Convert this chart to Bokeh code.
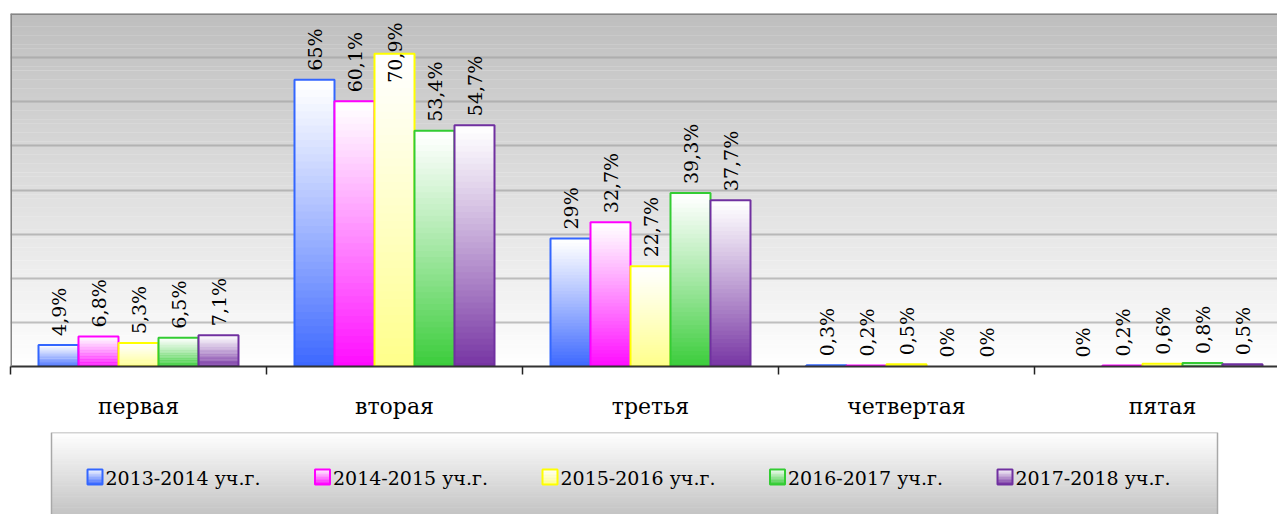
import numpy as np
from bokeh.plotting import figure
from bokeh.layouts import column
from bokeh.models import Range1d, FixedTicker, Span
from bokeh.core.properties import value
from bokeh.embed import file_html
from bokeh.resources import INLINE

# ---------------- data ----------------
categories = ["первая", "вторая", "третья", "четвертая", "пятая"]
series_names = ["2013-2014 уч.г.", "2014-2015 уч.г.", "2015-2016 уч.г.",
                "2016-2017 уч.г.", "2017-2018 уч.г."]
v_2013_2014 = [4.9, 65.0, 29.0, 0.3, 0.0]
v_2014_2015 = [6.8, 60.1, 32.7, 0.2, 0.2]
v_2015_2016 = [5.3, 70.9, 22.7, 0.5, 0.6]
v_2016_2017 = [6.5, 53.4, 39.3, 0.0, 0.8]
v_2017_2018 = [7.1, 54.7, 37.7, 0.0, 0.5]
series_values = [v_2013_2014, v_2014_2015, v_2015_2016, v_2016_2017, v_2017_2018]

# ---------------- styles ----------------
fill_bottom = ["#3A66FF", "#FF08FF", "#FFFF88", "#38CC38", "#7532A2"]
line_cols = ["#3366FF", "#FF00FF", "#FFFF00", "#33CC33", "#7030A0"]
FONT = "DejaVu Serif"

Y_MAX = 80.0
GROUP_PX = 256.0
FRAME_W = 1267
FRAME_H = 353
PX_PER_UNIT = FRAME_H / Y_MAX
BAR_W = 40.0 / GROUP_PX


def hexmix(c1, c2, f):
    a = [int(c1[i:i + 2], 16) for i in (1, 3, 5)]
    b = [int(c2[i:i + 2], 16) for i in (1, 3, 5)]
    m = [round(a[k] + (b[k] - a[k]) * f) for k in range(3)]
    return "#%02x%02x%02x" % tuple(m)


def fmt(v):
    if abs(v - round(v)) < 1e-9:
        return "%d%%" % round(v)
    return ("%.1f" % v).replace(".", ",") + "%"


p = figure(width=1277, height=432, output_backend="svg", toolbar_location=None,
           x_range=Range1d(0, FRAME_W / GROUP_PX), y_range=Range1d(0, Y_MAX),
           min_border_left=10, min_border_right=0, min_border_top=13,
           min_border_bottom=66)
p.background_fill_color = "white"
p.border_fill_color = "white"
p.outline_line_color = None

# plot-area gradient background (gray at top -> white at bottom)
NB = 80
bl, bt, bc = [], [], []
for j in range(NB):
    y0 = Y_MAX * j / NB
    y1 = Y_MAX * (j + 1) / NB + 0.05
    f = (j + 0.5) / NB
    bl.append(y0)
    bt.append(y1)
    bc.append(hexmix("#FFFFFF", "#BEBEBE", f))
p.quad(left=-1, right=6, bottom=bl, top=bt, fill_color=bc, line_color=None,
       level="image")

# grid
p.xgrid.visible = False
p.ygrid.ticker = FixedTicker(ticks=[10, 20, 30, 40, 50, 60, 70])
p.ygrid.grid_line_color = "#9a9a9a"
p.ygrid.grid_line_alpha = 0.6
p.ygrid.grid_line_width = 2

# borders (left and top)
p.add_layout(Span(location=Y_MAX, dimension="width", line_color="#858585",
                  line_width=3))
p.add_layout(Span(location=0, dimension="height", line_color="#858585",
                  line_width=3))

# bars with vertical gradient
NS = 40
for i, vals in enumerate(series_values):
    offs = (i - 2) * BAR_W
    sl, sr, sb, st, sc = [], [], [], [], []
    ol, or_, ot = [], [], []
    for k, v in enumerate(vals):
        xc = k + 0.5 + offs
        if v <= 0:
            continue
        for j in range(NS):
            b = max(0.0, v * (j - 0.4) / NS)
            t = v * (j + 1) / NS
            f = 1.0 - (j + 0.5) / NS
            sl.append(xc - BAR_W / 2)
            sr.append(xc + BAR_W / 2)
            sb.append(b)
            st.append(t)
            sc.append(hexmix("#FFFFFF", fill_bottom[i], f ** 1.1))
        ol.append(xc - BAR_W / 2)
        or_.append(xc + BAR_W / 2)
        ot.append(v)
    p.quad(left=sl, right=sr, bottom=sb, top=st, fill_color=sc, line_color=None)
    p.quad(left=ol, right=or_, bottom=0, top=ot, fill_color=None,
           line_color=line_cols[i], line_width=2)

# data labels (rotated)
LBL_SIZE = 19
GAP_PX = 9
for i, vals in enumerate(series_values):
    offs = (i - 2) * BAR_W
    xs, ys, ts = [], [], []
    for k, v in enumerate(vals):
        txt = fmt(v)
        em = sum(0.636 if c.isdigit() else 0.318 if c == "," else 0.948 for c in txt)
        length_px = em * LBL_SIZE
        start = v + GAP_PX / PX_PER_UNIT
        limit = Y_MAX - (9 + length_px) / PX_PER_UNIT
        start = min(start, limit)
        xs.append(k + 0.5 + offs)
        ys.append(start)
        ts.append(txt)
    p.text(x=xs, y=ys, text=ts, angle=np.pi / 2, text_align="left",
           text_baseline="middle", text_font=value(FONT),
           text_font_size="%dpx" % LBL_SIZE, text_color="black")

# axes
p.yaxis.visible = False
ax = p.xaxis[0]
ax.ticker = FixedTicker(ticks=[k + 0.5 for k in range(len(categories))],
                        minor_ticks=list(range(len(categories) + 1)))
ax.major_label_overrides = {k + 0.5: c for k, c in enumerate(categories)}
ax.major_tick_line_color = None
ax.major_tick_out = 0
ax.major_tick_in = 0
ax.minor_tick_out = 8
ax.minor_tick_in = 0
ax.minor_tick_line_color = "#222222"
ax.minor_tick_line_width = 1.5
ax.axis_line_color = "#333333"
ax.axis_line_width = 2
ax.major_label_text_font = FONT
ax.major_label_text_font_size = "22px"
ax.major_label_text_color = "black"
ax.major_label_standoff = 19

# ---------------- legend panel ----------------
leg = figure(width=1277, height=82, output_backend="svg", toolbar_location=None,
             x_range=Range1d(10, 1277), y_range=Range1d(514, 432),
             min_border_left=10, min_border_right=0, min_border_top=0,
             min_border_bottom=0)
leg.xaxis.visible = False
leg.yaxis.visible = False
leg.grid.visible = False
leg.outline_line_color = None
leg.background_fill_color = "white"
leg.border_fill_color = "white"

LX0, LX1, LY0, LY1 = 51, 1217, 432, 520
gl, gt, gc = [], [], []
NL = 40
for j in range(NL):
    y0 = LY0 + (LY1 - LY0) * j / NL
    y1 = LY0 + (LY1 - LY0) * (j + 1) / NL + 0.5
    f = (j + 0.5) / NL
    gl.append(y0)
    gt.append(y1)
    gc.append(hexmix("#FFFFFF", "#BFBFBF", f))
leg.quad(left=LX0, right=LX1, bottom=gl, top=gt, fill_color=gc, line_color=None)
leg.multi_line(xs=[[LX0, LX0, LX1, LX1]], ys=[[LY1, LY0, LY0, LY1]],
               line_color="#A8A8A8", line_width=1.5)

MK = 15
STEP = 227.5
for i, name in enumerate(series_names):
    mx = 87 + i * STEP
    my0, my1 = 469, 469 + MK
    mb, mt, mc = [], [], []
    for j in range(10):
        a = my0 + MK * j / 10
        b = my0 + MK * (j + 1) / 10 + 0.3
        f = (j + 0.5) / 10
        mb.append(a)
        mt.append(b)
        mc.append(hexmix("#FFFFFF", fill_bottom[i], f))
    leg.quad(left=mx, right=mx + MK, bottom=mb, top=mt, fill_color=mc,
             line_color=None)
    leg.quad(left=mx, right=mx + MK, bottom=my0, top=my1, fill_color=None,
             line_color=line_cols[i], line_width=2)
    leg.text(x=[mx + MK + 3], y=[477], text=[name], text_align="left",
             text_baseline="middle", text_font=value(FONT),
             text_font_size="19px", text_color="black")

layout = column(p, leg, spacing=0)
open("out.html", "w").write(file_html(layout, INLINE))
